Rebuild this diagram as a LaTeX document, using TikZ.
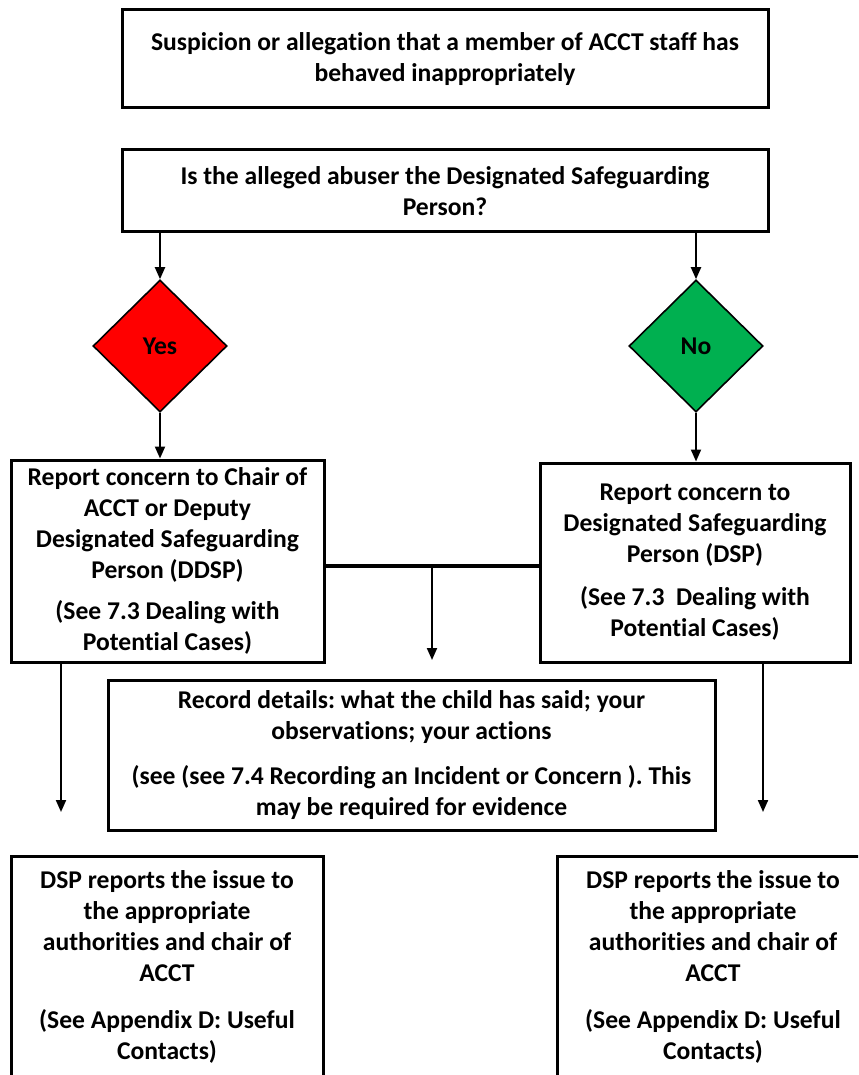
\documentclass[tikz,border=0pt]{standalone}
\usepackage{fontspec}
\setmainfont{Carlito}[Ligatures=NoCommon]
\frenchspacing
\usetikzlibrary{shapes.geometric,arrows.meta}
\begin{document}
\begin{tikzpicture}[x=0.5pt,y=-0.5pt]
  \tikzset{
    flowbox/.style={draw=black,line width=1.5pt,align=center,inner sep=2pt,
      font=\bfseries\fontsize{12.8}{15.5}\selectfont},
    flowtext/.style={align=center,inner sep=2pt,font=\bfseries\fontsize{12.8}{15.5}\selectfont},
    decision/.style={diamond,draw=black,line width=0.8pt,inner sep=0pt,
      minimum width=67pt,minimum height=66pt,font=\bfseries\fontsize{12.8}{15}\selectfont},
    flowarrow/.style={-{Triangle[length=6pt,width=5pt]},line width=1pt},
  }
  \definecolor{yesred}{RGB}{255,0,0}
  \definecolor{nogreen}{RGB}{0,176,80}
  \useasboundingbox (0,0) rectangle (858,1075);
  \node[flowbox,minimum width=323pt,minimum height=49pt] (suspicion) at (445,59)
    {Suspicion or allegation that a member of ACCT staff has\\behaved inappropriately};
  \node[flowbox,minimum width=323pt,minimum height=41pt] (alleged) at (445,191)
    {Is the alleged abuser the Designated Safeguarding\\Person?};
  \node[decision,fill=yesred] (yes) at (160,346) {Yes};
  \node[decision,fill=nogreen] (no) at (696,346) {No};
  \node[flowbox,minimum width=156.5pt,minimum height=101pt] (reportddsp) at (167.5,561)
    {Report concern to Chair of\\ACCT or Deputy\\Designated Safeguarding\\Person (DDSP)\\[5pt]
     (See 7.3 Dealing with\\Potential Cases)};
  \node[flowbox,minimum width=155pt,minimum height=99.5pt] (reportdsp) at (695,562.5)
    {Report concern to\\Designated Safeguarding\\Person (DSP)\\[6pt]
     (See 7.3~~Dealing with\\Potential Cases)};
  \node[flowbox,minimum width=303.5pt,minimum height=75pt] (record) at (411.5,755)
    {Record details: what the child has said; your\\observations; your actions\\[7pt]
     (see (see 7.4 Recording an Incident or Concern ). This\\may be required for evidence};
  \begin{scope}
    \clip (0,0) rectangle (858,1075);
    \draw[line width=1.5pt] (11,856) rectangle (323,1120);
    \draw[line width=1.5pt] (557,856) rectangle (890,1120);
  \end{scope}
  \node[flowtext,anchor=north] (authleft) at (167,866)
    {DSP reports the issue to\\the appropriate\\authorities and chair of\\ACCT\\[8pt]
     (See Appendix D: Useful\\Contacts)};
  \node[flowtext,anchor=north] (authright) at (713,866)
    {DSP reports the issue to\\the appropriate\\authorities and chair of\\ACCT\\[8pt]
     (See Appendix D: Useful\\Contacts)};
  \coordinate (join) at (432,566);
  \coordinate (recordin) at (432,660);
  \coordinate (leftend) at (61,812);
  \coordinate (rightend) at (763,812);
  \draw[flowarrow] (alleged.south -| yes) -- (yes.north);
  \draw[flowarrow] (alleged.south -| no) -- (no.north);
  \draw[flowarrow] (yes.south) -- (reportddsp.north -| yes);
  \draw[flowarrow] (no.south) -- (reportdsp.north -| no);
  \draw[line width=2pt] (reportddsp.east |- join) -- (reportdsp.west |- join);
  \draw[flowarrow] (join) -- (recordin);
  \draw[flowarrow] (reportddsp.south -| leftend) -- (leftend);
  \draw[flowarrow] (reportdsp.south -| rightend) -- (rightend);
\end{tikzpicture}
\end{document}
